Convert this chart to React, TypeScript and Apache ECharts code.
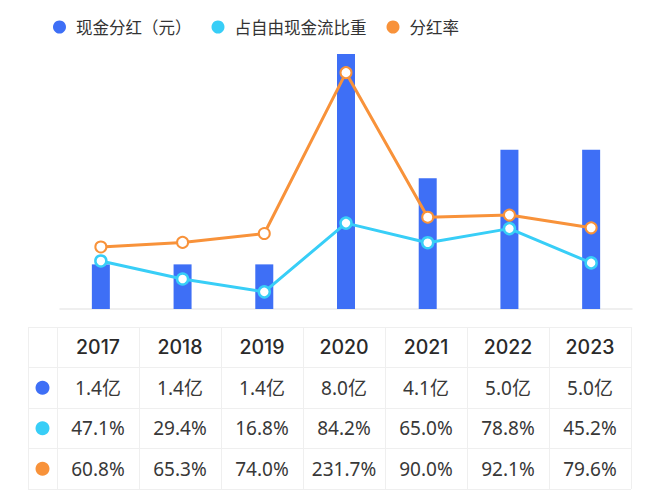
import React, { useEffect, useRef } from "react";
import * as echarts from "echarts";

const years = ["2017", "2018", "2019", "2020", "2021", "2022", "2023"];
const cashDividend = [1.4, 1.4, 1.4, 8.0, 4.1, 5.0, 5.0]; // 亿元
const fcfShare = [47.1, 29.4, 16.8, 84.2, 65.0, 78.8, 45.2]; // %
const payoutRatio = [60.8, 65.3, 74.0, 231.7, 90.0, 92.1, 79.6]; // %

const seriesNames = ["现金分红（元）", "占自由现金流比重", "分红率"];
const colors = ["#3E6FF6", "#38CEF7", "#F8923A"];
const tableRows = ["year", "cash", "fcf", "rate"];

const FONT = "'Noto Sans', 'Noto Sans CJK SC', sans-serif";
const YEAR_FONT = "Inter, 'Noto Sans', sans-serif";

export default function App() {
  const ref = useRef<HTMLDivElement>(null);

  useEffect(() => {
    document.body.style.margin = "0";
    if (!ref.current) return;
    const chart = echarts.init(ref.current, undefined, { renderer: "svg" });

    const rowTexts: Record<string, string[]> = {
      year: years,
      cash: cashDividend.map((v) => v.toFixed(1) + "亿"),
      fcf: fcfShare.map((v) => v.toFixed(1) + "%"),
      rate: payoutRatio.map((v) => v.toFixed(1) + "%"),
    };

    const tableSeries = tableRows.map((row) => ({
      type: "scatter",
      xAxisIndex: 2,
      yAxisIndex: 3,
      symbolSize: 1,
      silent: true,
      itemStyle: { color: "rgba(0,0,0,0)", opacity: 1 },
      label: {
        show: true,
        position: "inside",
        fontFamily: row === "year" ? YEAR_FONT : FONT,
        fontSize: row === "year" ? 19.5 : 19,
        fontWeight: row === "year" ? 500 : 400,
        color: row === "year" ? "#2a2a2a" : "#383838",
        formatter: (p: any) => p.value[2],
      },
      data: years.map((y, i) => [y, row, rowTexts[row][i]]),
    }));

    const gridLine = { show: true, lineStyle: { color: "#EFEFEF", width: 1 } };

    chart.setOption({
      animation: false,
      textStyle: { fontFamily: FONT },
      legend: {
        left: 48,
        top: 12,
        icon: "circle",
        itemWidth: 13,
        itemHeight: 13,
        itemGap: 20,
        selectedMode: false,
        textStyle: {
          fontFamily: FONT,
          fontSize: 16.5,
          color: "#333",
          lineHeight: 20,
          padding: [0, 0, 0, 5],
        },
        data: seriesNames.map((n, i) => ({
          name: n,
          itemStyle: { color: colors[i], borderWidth: 0 },
        })),
      },
      grid: [
        { left: 60, right: 28, top: 54, height: 255 },
        { left: 28, width: 29, top: 327, height: 162 },
        { left: 57, right: 29, top: 327, height: 162 },
      ],
      xAxis: [
        {
          type: "category",
          gridIndex: 0,
          data: years,
          axisLine: { lineStyle: { color: "#EAEAEA", width: 1.5 } },
          axisTick: { show: false },
          axisLabel: { show: false },
        },
        {
          type: "category",
          gridIndex: 1,
          data: [""],
          axisLine: { show: false },
          axisTick: { show: false },
          axisLabel: { show: false },
          splitLine: gridLine,
        },
        {
          type: "category",
          gridIndex: 2,
          data: years,
          axisLine: { show: false },
          axisTick: { show: false },
          axisLabel: { show: false },
          splitLine: gridLine,
        },
      ],
      yAxis: [
        { type: "value", gridIndex: 0, min: 0, max: 8, show: false },
        { type: "value", gridIndex: 0, min: 0, max: 250, show: false },
        {
          type: "category",
          gridIndex: 1,
          data: tableRows,
          inverse: true,
          axisLine: { show: false },
          axisTick: { show: false },
          axisLabel: { show: false },
          splitLine: gridLine,
        },
        {
          type: "category",
          gridIndex: 2,
          data: tableRows,
          inverse: true,
          axisLine: { show: false },
          axisTick: { show: false },
          axisLabel: { show: false },
          splitLine: gridLine,
        },
      ],
      series: [
        {
          name: seriesNames[0],
          type: "bar",
          xAxisIndex: 0,
          yAxisIndex: 0,
          barWidth: 18,
          itemStyle: { color: colors[0] },
          data: cashDividend,
          z: 2,
        },
        {
          name: seriesNames[1],
          type: "line",
          xAxisIndex: 0,
          yAxisIndex: 1,
          symbol: "circle",
          symbolSize: 11,
          lineStyle: { color: colors[1], width: 3 },
          itemStyle: { color: "#fff", borderColor: colors[1], borderWidth: 2.5 },
          data: fcfShare,
          z: 3,
        },
        {
          name: seriesNames[2],
          type: "line",
          xAxisIndex: 0,
          yAxisIndex: 1,
          symbol: "circle",
          symbolSize: 11,
          lineStyle: { color: colors[2], width: 3 },
          itemStyle: { color: "#fff", borderColor: colors[2], borderWidth: 2 },
          data: payoutRatio,
          z: 4,
        },
        {
          type: "scatter",
          xAxisIndex: 1,
          yAxisIndex: 2,
          symbol: "circle",
          symbolSize: 14,
          silent: true,
          data: [
            { value: ["", "cash"], itemStyle: { color: colors[0], opacity: 1 } },
            { value: ["", "fcf"], itemStyle: { color: colors[1], opacity: 1 } },
            { value: ["", "rate"], itemStyle: { color: colors[2], opacity: 1 } },
          ],
        },
        ...tableSeries,
      ],
    });

    return () => chart.dispose();
  }, []);

  return <div ref={ref} style={{ width: 660, height: 493 }} />;
}
